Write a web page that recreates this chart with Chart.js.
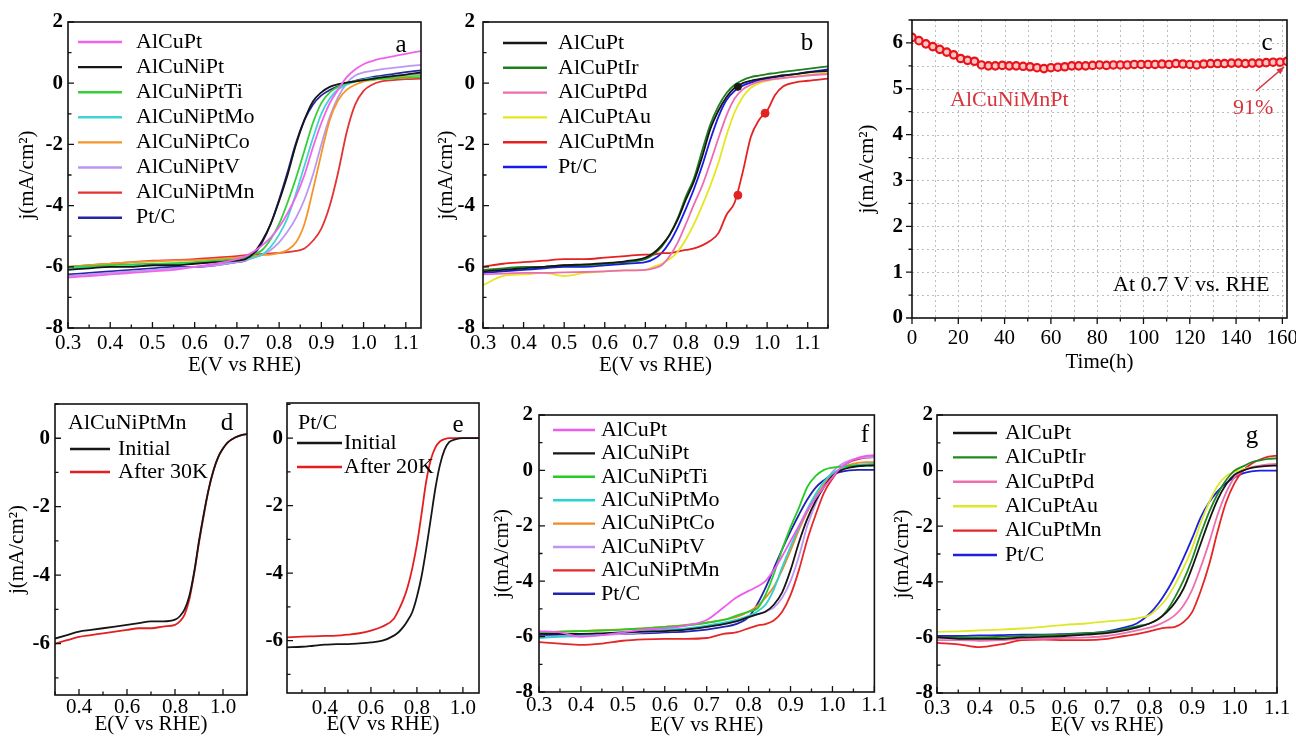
<!DOCTYPE html>
<html lang="en">
<head>
<meta charset="UTF-8">
<title>ORR polarization curves</title>
<script src="https://cdn.jsdelivr.net/npm/chart.js"></script>
<style>
  html, body { margin: 0; padding: 0; background: #fff; overflow: hidden; }
  body { width: 1296px; height: 740px; position: relative; }
  canvas { position: absolute; }
</style>
</head>
<body>
<canvas id="pa"></canvas>
<canvas id="pb"></canvas>
<canvas id="pc"></canvas>
<canvas id="pd"></canvas>
<canvas id="pe"></canvas>
<canvas id="pf"></canvas>
<canvas id="pg"></canvas>
<script>
// ---- panel a ----
const aE = [0.30,0.35,0.40,0.45,0.50,0.55,0.60,0.65,0.70,0.72,0.74,0.76,0.78,0.80,0.82,0.84,0.86,0.88,0.90,0.92,0.94,0.96,0.98,1.00,1.02,1.04,1.07,1.10,1.136];
const aLabels = ['AlCuPt','AlCuNiPt','AlCuNiPtTi','AlCuNiPtMo','AlCuNiPtCo','AlCuNiPtV','AlCuNiPtMn','Pt/C'];
const aAlCuPt   = [-6.35,-6.3,-6.25,-6.2,-6.15,-6.1,-6.0,-5.9,-5.75,-5.65,-5.5,-5.3,-5.05,-4.7,-4.25,-3.7,-3.0,-2.1,-1.3,-0.65,-0.2,0.2,0.45,0.62,0.72,0.8,0.88,0.96,1.05];
const aAlCuNiPt = [-6.1,-6.05,-6.0,-6.0,-5.95,-5.95,-5.9,-5.85,-5.8,-5.75,-5.55,-5.15,-4.6,-3.85,-3.0,-2.0,-1.2,-0.6,-0.3,-0.12,-0.03,0.02,0.06,0.1,0.14,0.18,0.23,0.28,0.35];
const aTi = [-6.0,-5.98,-5.95,-5.92,-5.9,-5.88,-5.85,-5.8,-5.75,-5.7,-5.6,-5.45,-5.1,-4.6,-3.9,-3.1,-2.2,-1.3,-0.65,-0.3,-0.12,0.0,0.06,0.1,0.12,0.14,0.16,0.18,0.2];
const aMo = [-6.05,-6.02,-6.0,-5.97,-5.95,-5.92,-5.88,-5.85,-5.8,-5.75,-5.7,-5.6,-5.35,-4.95,-4.4,-3.6,-2.7,-1.8,-1.0,-0.5,-0.2,-0.05,0.05,0.12,0.17,0.2,0.24,0.27,0.3];
const aCo = [-6.0,-5.95,-5.9,-5.85,-5.82,-5.8,-5.78,-5.75,-5.7,-5.68,-5.65,-5.62,-5.6,-5.55,-5.45,-5.2,-4.6,-3.5,-2.3,-1.2,-0.55,-0.22,-0.05,0.05,0.1,0.14,0.18,0.22,0.25];
const aV  = [-6.3,-6.25,-6.2,-6.15,-6.1,-6.05,-6.0,-5.95,-5.85,-5.8,-5.7,-5.6,-5.45,-5.2,-4.85,-4.4,-3.8,-3.0,-2.0,-1.1,-0.45,0.0,0.25,0.35,0.4,0.45,0.5,0.55,0.6];
const aMn = [-6.0,-5.95,-5.9,-5.85,-5.8,-5.78,-5.75,-5.7,-5.65,-5.62,-5.6,-5.58,-5.56,-5.55,-5.52,-5.48,-5.4,-5.15,-4.75,-4.0,-2.9,-1.6,-0.7,-0.25,-0.05,0.05,0.1,0.13,0.15];
const aPtC = [-6.25,-6.2,-6.15,-6.1,-6.05,-6.0,-6.0,-5.95,-5.85,-5.8,-5.6,-5.2,-4.6,-3.8,-2.9,-1.95,-1.2,-0.7,-0.4,-0.22,-0.1,0.0,0.08,0.14,0.2,0.24,0.3,0.36,0.42];

// ---- panel b ----
const bE = [0.30,0.35,0.40,0.45,0.50,0.55,0.60,0.65,0.70,0.72,0.74,0.76,0.78,0.80,0.82,0.84,0.86,0.88,0.90,0.92,0.94,0.96,0.98,1.00,1.02,1.04,1.07,1.10,1.15];
const bLabels = ['AlCuPt','AlCuPtIr','AlCuPtPd','AlCuPtAu','AlCuPtMn','Pt/C'];
const bAlCuPt = [-6.15,-6.1,-6.05,-6.0,-5.95,-5.92,-5.88,-5.82,-5.7,-5.55,-5.3,-4.95,-4.45,-3.8,-3.2,-2.4,-1.5,-0.9,-0.45,-0.15,0.0,0.08,0.13,0.18,0.22,0.26,0.3,0.35,0.4];
const bIr = [-6.1,-6.05,-6.0,-6.0,-5.95,-5.95,-5.9,-5.85,-5.75,-5.6,-5.35,-4.95,-4.4,-3.7,-3.1,-2.2,-1.35,-0.75,-0.32,-0.05,0.1,0.2,0.25,0.3,0.33,0.37,0.42,0.47,0.55];
const bPd = [-6.25,-6.22,-6.2,-6.2,-6.18,-6.17,-6.15,-6.12,-6.1,-6.05,-5.95,-5.65,-5.2,-4.6,-3.95,-3.35,-2.6,-1.8,-1.05,-0.5,-0.2,-0.05,0.05,0.1,0.14,0.17,0.21,0.25,0.3];
const bAu = [-6.6,-6.3,-6.25,-6.2,-6.3,-6.2,-6.15,-6.12,-6.1,-6.0,-5.9,-5.75,-5.5,-5.1,-4.6,-4.0,-3.35,-2.6,-1.7,-0.95,-0.45,-0.15,0.0,0.08,0.13,0.17,0.22,0.27,0.35];
const bMn = [-6.0,-5.9,-5.85,-5.8,-5.75,-5.75,-5.7,-5.65,-5.6,-5.6,-5.55,-5.55,-5.5,-5.45,-5.4,-5.3,-5.15,-4.9,-4.3,-3.9,-2.9,-1.75,-1.2,-0.9,-0.38,-0.1,0.03,0.08,0.15];
const bPtC = [-6.2,-6.15,-6.1,-6.05,-6.0,-6.0,-5.95,-5.9,-5.85,-5.75,-5.55,-5.2,-4.7,-4.1,-3.45,-2.7,-1.85,-1.1,-0.55,-0.25,-0.08,0.02,0.1,0.15,0.2,0.24,0.3,0.36,0.45];
const bMarkE = [0.928, 0.995, 0.928];
const bMarkJ = [-3.66, -0.98, -0.12];

// ---- panel c ----
const cTime = [0,3,6,9,12,15,18,21,24,27,30,33,36,39,42,45,48,51,54,57,60,63,66,69,72,75,78,81,84,87,90,93,96,99,102,105,108,111,114,117,120,123,126,129,132,135,138,141,144,147,150,153,156,159,162];
const cJ = [6.12,6.05,5.98,5.92,5.86,5.8,5.74,5.66,5.62,5.6,5.52,5.5,5.5,5.51,5.5,5.5,5.49,5.48,5.46,5.44,5.46,5.47,5.48,5.5,5.5,5.5,5.51,5.52,5.51,5.52,5.52,5.52,5.53,5.53,5.53,5.53,5.54,5.53,5.55,5.54,5.53,5.52,5.54,5.55,5.55,5.55,5.56,5.56,5.55,5.56,5.56,5.57,5.58,5.58,5.6];

// ---- panel d ----
const dE = [0.30,0.35,0.40,0.45,0.50,0.55,0.60,0.65,0.70,0.75,0.80,0.82,0.84,0.86,0.88,0.90,0.92,0.94,0.96,0.98,1.00,1.02,1.05,1.08,1.10];
const dLabels = ['Initial','After 30K'];
const dInitial = [-5.85,-5.75,-5.65,-5.6,-5.55,-5.5,-5.45,-5.4,-5.35,-5.35,-5.3,-5.2,-5.0,-4.6,-3.9,-3.0,-2.2,-1.5,-0.95,-0.55,-0.3,-0.12,0.02,0.1,0.12];
const dAfter = [-6.0,-5.9,-5.8,-5.75,-5.7,-5.65,-5.6,-5.55,-5.55,-5.5,-5.45,-5.35,-5.15,-4.7,-3.95,-3.05,-2.25,-1.5,-0.95,-0.55,-0.3,-0.12,0.02,0.1,0.12];

// ---- panel e ----
const eE = [0.235,0.30,0.35,0.40,0.45,0.50,0.55,0.60,0.65,0.70,0.72,0.74,0.76,0.78,0.80,0.82,0.84,0.86,0.88,0.90,0.92,0.94,0.97,1.00,1.03,1.07];
const eLabels = ['Initial','After 20K'];
const eInitial = [-6.2,-6.18,-6.15,-6.12,-6.1,-6.1,-6.08,-6.05,-6.0,-5.85,-5.75,-5.6,-5.4,-5.15,-4.7,-4.1,-3.3,-2.4,-1.5,-0.8,-0.35,-0.12,-0.03,0.0,0.0,0.0];
const eAfter = [-5.9,-5.88,-5.87,-5.86,-5.85,-5.82,-5.78,-5.7,-5.58,-5.35,-5.1,-4.8,-4.4,-3.85,-3.15,-2.25,-1.3,-0.65,-0.28,-0.1,-0.03,0.0,0.0,0.0,0.0,0.0];

// ---- panel f ----
const fE = [0.30,0.35,0.40,0.45,0.50,0.55,0.60,0.65,0.70,0.74,0.77,0.80,0.82,0.84,0.86,0.88,0.90,0.92,0.94,0.96,0.98,1.00,1.02,1.04,1.06,1.08,1.10];
const fLabels = aLabels;
const fAlCuPt = [-5.8,-5.85,-6.0,-5.95,-5.85,-5.75,-5.7,-5.6,-5.4,-4.95,-4.6,-4.35,-4.2,-4.0,-3.6,-3.1,-2.55,-2.0,-1.45,-1.0,-0.6,-0.25,0.1,0.3,0.45,0.52,0.55];
const fAlCuNiPt = [-5.9,-5.9,-5.9,-5.88,-5.85,-5.82,-5.8,-5.75,-5.65,-5.55,-5.45,-5.3,-5.2,-5.1,-4.85,-4.4,-3.6,-2.6,-1.75,-1.1,-0.6,-0.2,0.0,0.1,0.15,0.17,0.18];
const fTi = [-5.85,-5.82,-5.8,-5.78,-5.75,-5.7,-5.65,-5.6,-5.5,-5.4,-5.25,-5.1,-5.0,-4.5,-3.75,-2.85,-2.05,-1.35,-0.6,-0.2,0.02,0.1,0.14,0.16,0.17,0.18,0.18];
const fMo = [-6.05,-6.0,-5.95,-5.9,-5.85,-5.8,-5.75,-5.7,-5.6,-5.5,-5.4,-5.25,-5.1,-4.85,-4.3,-3.5,-2.75,-2.05,-1.4,-0.85,-0.4,-0.1,0.05,0.15,0.2,0.23,0.24];
const fCo = [-5.85,-5.82,-5.8,-5.77,-5.74,-5.7,-5.65,-5.58,-5.5,-5.4,-5.3,-5.1,-4.9,-4.6,-4.2,-3.6,-2.9,-2.15,-1.5,-0.95,-0.5,-0.15,0.07,0.2,0.27,0.3,0.3];
const fV = [-6.0,-6.0,-6.0,-5.95,-5.9,-5.85,-5.8,-5.75,-5.65,-5.55,-5.45,-5.3,-5.2,-5.1,-4.95,-4.6,-4.0,-3.1,-2.0,-1.2,-0.5,-0.05,0.2,0.35,0.43,0.47,0.48];
const fMn = [-6.2,-6.25,-6.3,-6.25,-6.15,-6.1,-6.08,-6.08,-6.05,-5.9,-5.85,-5.7,-5.6,-5.55,-5.42,-5.1,-4.5,-3.6,-2.5,-1.6,-0.8,-0.3,0.08,0.3,0.4,0.46,0.48];
const fPtC = [-5.95,-5.93,-5.92,-5.9,-5.9,-5.88,-5.85,-5.82,-5.75,-5.65,-5.55,-5.3,-4.85,-4.25,-3.55,-2.85,-2.2,-1.6,-1.05,-0.62,-0.35,-0.15,-0.05,0.0,0.02,0.02,0.02];

// ---- panel g ----
const gE = fE;
const gLabels = bLabels;
const gAlCuPt = [-6.0,-6.05,-6.05,-6.05,-6.0,-5.98,-5.95,-5.9,-5.85,-5.75,-5.65,-5.5,-5.35,-5.1,-4.75,-4.25,-3.5,-2.65,-1.8,-1.05,-0.5,-0.15,0.0,0.1,0.14,0.17,0.18];
const gIr = [-6.0,-6.0,-6.0,-5.98,-5.95,-5.92,-5.9,-5.85,-5.8,-5.7,-5.6,-5.5,-5.35,-5.05,-4.55,-3.95,-3.2,-2.3,-1.5,-0.85,-0.35,0.0,0.15,0.3,0.37,0.42,0.44];
const gPd = [-6.1,-6.1,-6.12,-6.1,-6.05,-6.05,-6.02,-6.0,-5.95,-5.85,-5.75,-5.65,-5.55,-5.4,-5.2,-4.85,-4.3,-3.5,-2.6,-1.6,-0.8,-0.25,0.0,0.12,0.18,0.22,0.24];
const gAu = [-5.8,-5.78,-5.75,-5.72,-5.68,-5.62,-5.55,-5.5,-5.42,-5.38,-5.32,-5.2,-4.95,-4.6,-4.1,-3.5,-2.8,-1.9,-1.15,-0.55,-0.2,-0.05,0.05,0.12,0.17,0.21,0.24];
const gMn = [-6.2,-6.25,-6.35,-6.25,-6.1,-6.08,-6.1,-6.1,-6.05,-5.95,-5.88,-5.78,-5.7,-5.65,-5.62,-5.45,-5.1,-4.35,-3.4,-2.2,-1.15,-0.45,0.0,0.25,0.4,0.5,0.54];
const gPtC = [-5.95,-5.95,-5.93,-5.92,-5.9,-5.9,-5.88,-5.85,-5.78,-5.65,-5.5,-5.15,-4.8,-4.35,-3.8,-3.15,-2.45,-1.7,-1.15,-0.75,-0.45,-0.25,-0.1,-0.03,0.0,0.0,0.0];

// ---- tick values ----
const eTicks = [0.3,0.4,0.5,0.6,0.7,0.8,0.9,1.0,1.1];
const jTicks = [2,0,-2,-4,-6,-8];
const cXTicks = [0,20,40,60,80,100,120,140,160];
const cYTicks = [0,1,2,3,4,5,6];
const deXTicks = [0.4,0.6,0.8,1.0];
const deYTicks = [0,-2,-4,-6];

const SERIF = "'Liberation Serif', 'Times New Roman', 'DejaVu Serif', serif";
Chart.defaults.font.family = SERIF;
Chart.defaults.color = '#000';

function curves(xs, series, labels, colors) {
  return series.map((s, k) => ({
    label: labels[k],
    data: xs.map((x, i) => ({x: x, y: s[i]})),
    showLine: true,
    borderColor: colors[k],
    backgroundColor: colors[k],
    borderWidth: 1.8,
    pointRadius: 0,
    cubicInterpolationMode: 'monotone'
  }));
}

// frame, inward/outward ticks, legend and free texts
const framePlugin = {
  id: 'frame',
  beforeDatasetsDraw(chart, args, o) {
    if (!o.grid) return;
    const {ctx, chartArea: ca, scales: {x, y}} = chart;
    ctx.save();
    ctx.strokeStyle = '#bdbdbd';
    ctx.lineWidth = 1;
    ctx.setLineDash([2, 3]);
    ctx.beginPath();
    for (let v = x.min + o.grid.x; v < x.max - 1e-6; v += o.grid.x) {
      const px = Math.round(x.getPixelForValue(v)) + 0.5;
      ctx.moveTo(px, ca.top); ctx.lineTo(px, ca.bottom);
    }
    for (let v = y.min + o.grid.y; v < y.max - 1e-6; v += o.grid.y) {
      const py = Math.round(y.getPixelForValue(v)) + 0.5;
      ctx.moveTo(ca.left, py); ctx.lineTo(ca.right, py);
    }
    ctx.stroke();
    ctx.restore();
  },
  afterDatasetsDraw(chart, args, o) {
    const {ctx, chartArea: ca, scales: {x, y}} = chart;
    const bx = o.box.x, by = o.box.y;
    ctx.save();
    ctx.strokeStyle = '#111';
    ctx.lineWidth = 1.6;
    ctx.strokeRect(ca.left, ca.top, ca.right - ca.left, ca.bottom - ca.top);
    const dir = o.outward ? -1 : 1;
    ctx.lineWidth = 1.3;
    ctx.beginPath();
    const xMaj = x.ticks.map(t => t.value);
    for (let v = Math.ceil(x.min / o.xMinor - 1e-6) * o.xMinor; v <= x.max + 1e-6; v += o.xMinor) {
      const major = xMaj.some(m => Math.abs(m - v) < 1e-6);
      const px = x.getPixelForValue(v);
      ctx.moveTo(px, ca.bottom); ctx.lineTo(px, ca.bottom - dir * (major ? 6 : 3.5));
    }
    const yMaj = y.ticks.map(t => t.value);
    for (let v = Math.ceil(y.min / o.yMinor - 1e-6) * o.yMinor; v <= y.max + 1e-6; v += o.yMinor) {
      const major = yMaj.some(m => Math.abs(m - v) < 1e-6);
      const py = y.getPixelForValue(v);
      ctx.moveTo(ca.left, py); ctx.lineTo(ca.left + dir * (major ? 6 : 3.5), py);
    }
    ctx.stroke();

    if (o.legend) {
      const L = o.legend;
      const items = chart.data.datasets.filter(d => d.label);
      ctx.font = '22px ' + SERIF;
      ctx.textBaseline = 'middle';
      ctx.textAlign = 'left';
      items.forEach((d, i) => {
        const yy = L.y + i * L.dy - by;
        ctx.strokeStyle = d.borderColor;
        ctx.lineWidth = 2.4;
        ctx.beginPath();
        ctx.moveTo(L.x1 - bx, yy); ctx.lineTo(L.x2 - bx, yy);
        ctx.stroke();
        ctx.fillStyle = '#000';
        ctx.fillText(d.label, L.tx - bx, yy);
      });
    }
    (o.texts || []).forEach(t => {
      ctx.font = t.font || ('22px ' + SERIF);
      ctx.fillStyle = t.color || '#000';
      ctx.textAlign = t.align || 'left';
      ctx.textBaseline = t.base || 'middle';
      ctx.fillText(t.text, t.x - bx, t.y - by);
    });
    if (o.arrow) {
      const A = o.arrow;
      const x1 = A.x1 - bx, y1 = A.y1 - by, x2 = A.x2 - bx, y2 = A.y2 - by;
      const ang = Math.atan2(y2 - y1, x2 - x1);
      ctx.strokeStyle = A.color; ctx.fillStyle = A.color; ctx.lineWidth = 1.6;
      ctx.beginPath(); ctx.moveTo(x1, y1); ctx.lineTo(x2, y2); ctx.stroke();
      ctx.beginPath();
      ctx.moveTo(x2, y2);
      ctx.lineTo(x2 - 8 * Math.cos(ang - 0.4), y2 - 8 * Math.sin(ang - 0.4));
      ctx.lineTo(x2 - 8 * Math.cos(ang + 0.4), y2 - 8 * Math.sin(ang + 0.4));
      ctx.closePath(); ctx.fill();
    }
    ctx.restore();
  }
};
Chart.register(framePlugin);

function makeChart(id, c) {
  const cv = document.getElementById(id);
  cv.width = c.box.w; cv.height = c.box.h;
  cv.style.left = c.box.x + 'px'; cv.style.top = c.box.y + 'px';
  const yW = c.area.l - c.box.x;
  const xH = c.box.y + c.box.h - c.area.b;
  const padT = c.area.t - c.box.y;
  const padR = c.box.x + c.box.w - c.area.r;
  c.frame.box = c.box;
  return new Chart(cv, {
    type: 'scatter',
    data: {datasets: c.datasets},
    options: {
      responsive: false,
      animation: false,
      layout: {padding: {top: padT, right: padR, left: 0, bottom: 0}},
      plugins: {legend: {display: false}, tooltip: {enabled: false}, frame: c.frame},
      scales: {
        x: {
          type: 'linear', min: c.x.min, max: c.x.max,
          afterFit: s => { s.height = xH; },
          afterBuildTicks: s => { s.ticks = c.x.ticks.map(v => ({value: v})); },
          grid: {display: false, drawTicks: false},
          border: {display: false},
          ticks: {padding: c.x.pad, maxRotation: 0, autoSkip: false,
                  font: {size: 21, lineHeight: 1}, callback: c.x.fmt},
          title: {display: true, text: c.x.title, font: {size: 21, lineHeight: 1.2},
                  padding: {top: 0, bottom: c.x.tpad}}
        },
        y: {
          type: 'linear', min: c.y.min, max: c.y.max,
          afterFit: s => { s.width = yW; },
          afterBuildTicks: s => { s.ticks = c.y.ticks.map(v => ({value: v})); },
          grid: {display: false, drawTicks: false},
          border: {display: false},
          ticks: {padding: c.y.pad, autoSkip: false,
                  font: {size: 21, weight: 'bold', lineHeight: 1}, callback: v => String(v)},
          title: {display: !!c.y.title, text: c.y.title || '', font: {size: 21, lineHeight: 1.2},
                  padding: {top: c.y.tpad || 0, bottom: 0}}
        }
      }
    }
  });
}

const fmt1 = v => v.toFixed(1);
const JT = 'j(mA/cm²)';
const ET = 'E(V vs RHE)';
const letter = (t, x, y) => ({text: t, x: x, y: y, font: '25px ' + SERIF, align: 'center', base: 'alphabetic'});

makeChart('pa', {
  box: {x: 0, y: 0, w: 430, h: 380}, area: {l: 68, t: 22, r: 421, b: 328},
  x: {min: 0.3, max: 1.136, ticks: eTicks, fmt: fmt1, pad: 4.5, title: ET, tpad: 1.5},
  y: {min: -8, max: 2, ticks: jTicks, pad: 5, title: JT, tpad: 15},
  datasets: curves(aE, [aAlCuPt, aAlCuNiPt, aTi, aMo, aCo, aV, aMn, aPtC], aLabels,
    ['#f062ee', '#161616', '#35cf35', '#3fd5d5', '#f5962a', '#bb98f0', '#e53232', '#26269e']),
  frame: {xMinor: 0.05, yMinor: 1,
    legend: {x1: 78, x2: 122, tx: 136, y: 42, dy: 25.1},
    texts: [letter('a', 401, 52)]}
});

const bSets = curves(bE, [bAlCuPt, bIr, bPd, bAu, bMn, bPtC], bLabels,
  ['#161616', '#1d7f1d', '#ec6cb4', '#e6e61e', '#e52222', '#1a1ae8']);
bSets.unshift({
  label: '',
  data: bMarkE.map((x, i) => ({x: x, y: bMarkJ[i]})),
  pointRadius: [4, 4, 3.5],
  pointBackgroundColor: ['#e52222', '#e52222', '#161616'],
  pointBorderColor: ['#e52222', '#e52222', '#161616'],
  showLine: false
});
makeChart('pb', {
  box: {x: 430, y: 0, w: 410, h: 380}, area: {l: 483, t: 22, r: 828, b: 328},
  x: {min: 0.3, max: 1.15, ticks: eTicks, fmt: fmt1, pad: 4.5, title: ET, tpad: 1.5},
  y: {min: -8, max: 2, ticks: jTicks, pad: 8, title: JT, tpad: 4},
  datasets: bSets,
  frame: {xMinor: 0.05, yMinor: 1,
    legend: {x1: 503, x2: 547, tx: 558, y: 43, dy: 24.8},
    texts: [letter('b', 807, 50)]}
});

makeChart('pc', {
  box: {x: 840, y: 0, w: 470, h: 380}, area: {l: 912, t: 20, r: 1287, b: 318},
  x: {min: 0, max: 162, ticks: cXTicks, fmt: v => String(v), pad: 9.5, title: 'Time(h)', tpad: 5},
  y: {min: 0, max: 6.5, ticks: cYTicks, pad: 9, title: JT, tpad: 15},
  datasets: [{
    label: 'AlCuNiMnPt',
    data: cTime.map((t, i) => ({x: t, y: cJ[i]})),
    showLine: true, borderColor: '#e8141b', borderWidth: 1.5,
    pointRadius: 3.7, pointBorderWidth: 2.2, pointBorderColor: '#e8141b',
    pointBackgroundColor: '#ffc4c4'
  }],
  frame: {xMinor: 10, yMinor: 0.5, outward: true, grid: {x: 10, y: 0.5},
    texts: [
      letter('c', 1267, 50),
      {text: 'AlCuNiMnPt', x: 950, y: 100, color: '#d8323c', font: '22px ' + SERIF},
      {text: '91%', x: 1233, y: 108, color: '#d8323c', font: '22px ' + SERIF},
      {text: 'At 0.7 V vs. RHE', x: 1113, y: 285, font: '22px ' + SERIF}
    ],
    arrow: {x1: 1256, y1: 91, x2: 1284, y2: 67, color: '#d8323c'}}
});

makeChart('pd', {
  box: {x: 0, y: 380, w: 260, h: 360}, area: {l: 55, t: 404, r: 247, b: 695},
  x: {min: 0.3, max: 1.1, ticks: deXTicks, fmt: fmt1, pad: 1.5, title: ET, tpad: 3},
  y: {min: -7.5, max: 1, ticks: deYTicks, pad: 5, title: JT, tpad: 5},
  datasets: curves(dE, [dInitial, dAfter], dLabels, ['#161616', '#e41e1e']),
  frame: {xMinor: 0.1, yMinor: 1,
    legend: {x1: 70, x2: 110, tx: 118, y: 449, dy: 23},
    texts: [{text: 'AlCuNiPtMn', x: 68, y: 423}, letter('d', 227, 430)]}
});

makeChart('pe', {
  box: {x: 260, y: 380, w: 230, h: 360}, area: {l: 287, t: 403, r: 479, b: 693},
  x: {min: 0.235, max: 1.07, ticks: deXTicks, fmt: fmt1, pad: 4.5, title: ET, tpad: 3},
  y: {min: -7.55, max: 1.04, ticks: deYTicks, pad: 4},
  datasets: curves(eE, [eInitial, eAfter], eLabels, ['#161616', '#e41e1e']),
  frame: {xMinor: 0.1, yMinor: 1,
    legend: {x1: 297, x2: 342, tx: 344, y: 443, dy: 24},
    texts: [{text: 'Pt/C', x: 298, y: 423}, letter('e', 458, 432)]}
});

makeChart('pf', {
  box: {x: 490, y: 380, w: 400, h: 360}, area: {l: 539, t: 415, r: 887, b: 692},
  x: {min: 0.3, max: 1.1, ticks: eTicks, fmt: fmt1, pad: 2.5, title: ET, tpad: 1.5},
  y: {min: -8, max: 2, ticks: jTicks, pad: 6, title: JT, tpad: 0},
  datasets: curves(fE, [fAlCuPt, fAlCuNiPt, fTi, fMo, fCo, fV, fMn, fPtC], fLabels,
    ['#ee5cee', '#161616', '#25cc25', '#25d4d4', '#f08a28', '#c094f0', '#e42828', '#2222b0']),
  frame: {xMinor: 0.05, yMinor: 1,
    legend: {x1: 553, x2: 595, tx: 601, y: 430, dy: 23.4},
    texts: [letter('f', 865, 442)]}
});

makeChart('pg', {
  box: {x: 890, y: 380, w: 420, h: 360}, area: {l: 937, t: 415, r: 1277, b: 693},
  x: {min: 0.3, max: 1.1, ticks: eTicks, fmt: fmt1, pad: 4.5, title: ET, tpad: 1.5},
  y: {min: -8, max: 2, ticks: jTicks, pad: 4, title: JT, tpad: 0},
  datasets: curves(gE, [gAlCuPt, gIr, gPd, gAu, gMn, gPtC], gLabels,
    ['#161616', '#1f8a1f', '#ef6fae', '#dde82a', '#e42626', '#1e1ee0']),
  frame: {xMinor: 0.05, yMinor: 1,
    legend: {x1: 953, x2: 997, tx: 1005, y: 433, dy: 24.4},
    texts: [letter('g', 1252, 443)]}
});
</script>
</body>
</html>
